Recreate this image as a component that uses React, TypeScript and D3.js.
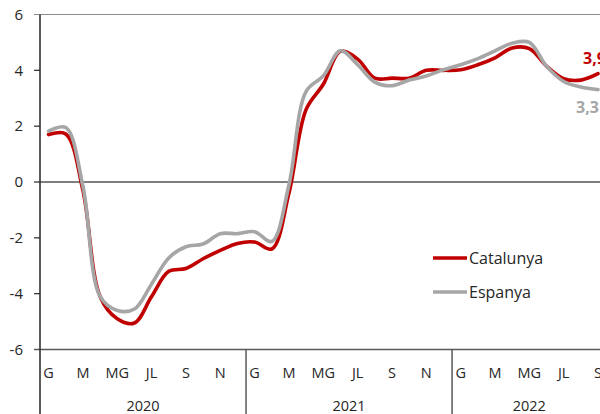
import React from "react";
import * as d3 from "d3";

const months = [
  "2020-01","2020-02","2020-03","2020-04","2020-05","2020-06","2020-07","2020-08","2020-09","2020-10","2020-11","2020-12",
  "2021-01","2021-02","2021-03","2021-04","2021-05","2021-06","2021-07","2021-08","2021-09","2021-10","2021-11","2021-12",
  "2022-01","2022-02","2022-03","2022-04","2022-05","2022-06","2022-07","2022-08","2022-09",
];
const monthLabels = ["G", "", "M", "", "MG", "", "JL", "", "S", "", "N", ""];
const years = ["2020", "2021", "2022"];

const catalunya = [
  1.70, 1.72, -0.3, -4.1, -4.9, -5.05, -4.1, -3.2, -3.1, -2.75, -2.45, -2.2,
  -2.15, -2.4, -0.4, 2.6, 3.5, 4.68, 4.4, 3.72, 3.72, 3.72, 4.0, 4.0,
  4.02, 4.2, 4.45, 4.8, 4.78, 4.15, 3.7, 3.65, 3.88,
];
const espanya = [
  1.82, 1.95, -0.15, -4.1, -4.6, -4.55, -3.65, -2.72, -2.32, -2.22, -1.85, -1.85,
  -1.78, -2.13, -0.1, 3.25, 3.8, 4.7, 4.2, 3.58, 3.45, 3.65, 3.8, 4.02,
  4.2, 4.42, 4.7, 4.97, 5.0, 4.15, 3.6, 3.4, 3.31,
];
const yTicks = [-6, -4, -2, 0, 2, 4, 6];
const seriesNames = ["Catalunya", "Espanya"];
const lastLabels = ["3,9", "3,3"];

const RED = "#C00000";
const GREY = "#A6A6A6";
const FONT = "'Open Sans', sans-serif";

export default function App() {
  const W = 600, H = 414;
  const left = 40;
  const step = 17.17;
  const x = d3.scaleBand<string>().domain(months).range([left, left + step * months.length]).paddingInner(0).paddingOuter(0);
  const bw = x.bandwidth();
  const cx = (m: string) => (x(m) as number) + bw / 2;
  const y = d3.scaleLinear().domain([-6, 6]).range([349.5, 14.5]);

  const line = d3
    .line<number>()
    .x((_, i) => cx(months[i]))
    .y((d) => y(d))
    .curve(d3.curveCatmullRom.alpha(0.5));

  const lastM = months[months.length - 1];
  const yearGroups = years.map((yr) => {
    const ms = months.filter((m) => m.startsWith(yr));
    const x0 = x(ms[0]) as number;
    const x1 = (x(ms[ms.length - 1]) as number) + bw;
    return { yr, x0, x1 };
  });

  return (
    <svg width={W} height={H} style={{ position: "absolute", left: 0, top: 0, background: "#fff" }} fontFamily={FONT}>
      {/* top line */}
      <line x1={34} x2={W} y1={y(6)} y2={y(6)} stroke="#8c8c8c" strokeWidth={1.2} />
      {/* zero line */}
      <line x1={left} x2={W} y1={y(0)} y2={y(0)} stroke="#000" strokeWidth={1.2} />
      {/* y ticks */}
      {yTicks.map((t) => (
        <g key={t}>
          {t !== 6 && t !== -6 && <line x1={34} x2={left} y1={y(t)} y2={y(t)} stroke="#262626" strokeWidth={1.2} />}
          <text x={23} y={y(t) + 5.3} textAnchor="end" fontSize={15} fill="#262626">
            {t}
          </text>
        </g>
      ))}
      {/* series */}
      <path d={line(catalunya) || ""} fill="none" stroke={RED} strokeWidth={3.6} strokeLinejoin="round" strokeLinecap="round" />
      <path d={line(espanya) || ""} fill="none" stroke={GREY} strokeWidth={3.6} strokeLinejoin="round" strokeLinecap="round" />
      {/* last labels */}
      <text x={cx(lastM) - 15} y={y(catalunya[catalunya.length - 1]) - 10} fontSize={16} fontWeight="bold" fill={RED}>
        {lastLabels[0]}
      </text>
      <text x={cx(lastM) - 22} y={y(espanya[espanya.length - 1]) + 23} fontSize={16} fontWeight="bold" fill={GREY}>
        {lastLabels[1]}
      </text>
      {/* bottom axis */}
      <line x1={34} x2={W} y1={y(-6)} y2={y(-6)} stroke="#595959" strokeWidth={1.5} />
      <line x1={left} x2={left} y1={y(6)} y2={H} stroke="#262626" strokeWidth={1.5} />
      {yearGroups.slice(1).map((g) => (
        <line key={g.yr} x1={g.x0} x2={g.x0} y1={y(-6)} y2={H} stroke="#595959" strokeWidth={1.5} />
      ))}
      {months.map((m, i) => {
        const lab = monthLabels[i % 12];
        return lab ? (
          <text key={m} x={cx(m)} y={378} textAnchor="middle" fontSize={14.5} fill="#262626">
            {lab}
          </text>
        ) : null;
      })}
      {yearGroups.map((g) => (
        <text key={g.yr} x={(g.x0 + g.x1) / 2} y={411} textAnchor="middle" fontSize={14.5} fill="#262626">
          {g.yr}
        </text>
      ))}
      {/* legend */}
      {seriesNames.map((n, i) => (
        <g key={n} transform={`translate(433, ${258 + i * 34})`}>
          <line x1={0} x2={34} y1={0} y2={0} stroke={i === 0 ? RED : GREY} strokeWidth={3.6} />
          <text x={36} y={5.5} fontSize={16} fill="#262626">
            {n}
          </text>
        </g>
      ))}
    </svg>
  );
}
